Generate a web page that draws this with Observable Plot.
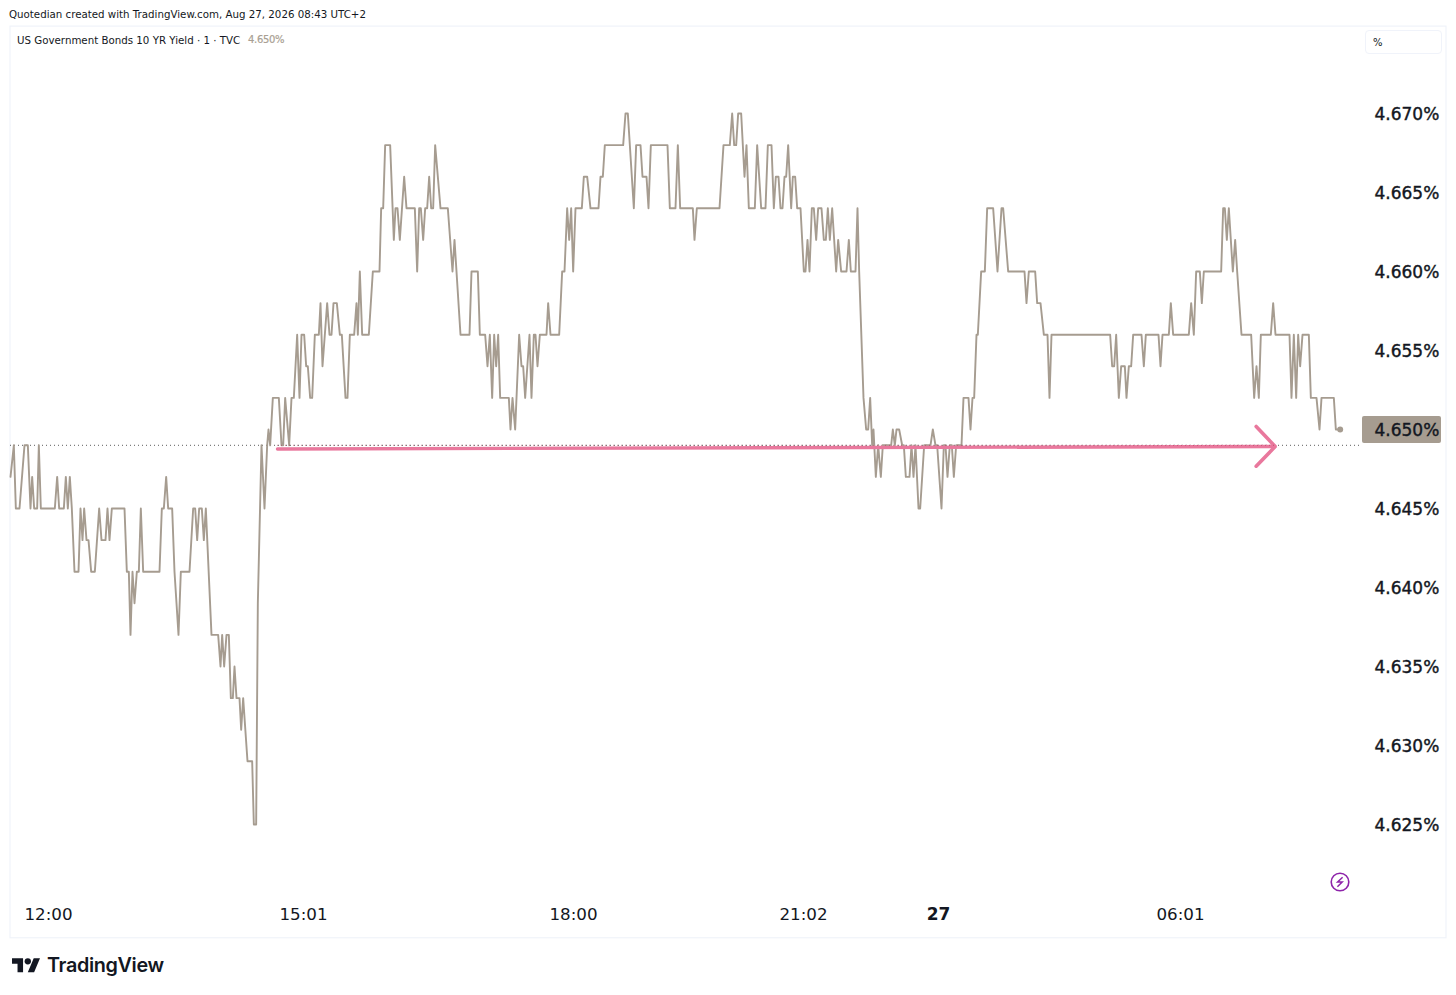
<!DOCTYPE html>
<html><head><meta charset="utf-8">
<script src="https://cdn.jsdelivr.net/npm/d3@7"></script>
<script src="https://cdn.jsdelivr.net/npm/@observablehq/plot@0.6"></script>
<style>
html,body{margin:0;padding:0;background:#fff;width:1456px;height:995px;overflow:hidden}
#chart{position:absolute;left:0;top:0}
.t{position:absolute;white-space:nowrap;font-family:"DejaVu Sans";color:#131722}
</style></head><body>
<div id="chart"></div>
<div class="t" id="hdr" style="left:9px;top:8px;font-size:10.25px">Quotedian created with TradingView.com, Aug 27, 2026 08:43 UTC+2</div>
<div class="t" id="leg" style="left:17px;top:34px;font-size:10.25px">US Government Bonds 10 YR Yield · 1 · TVC</div>
<div class="t" id="legv" style="left:248px;top:34px;font-size:10px;letter-spacing:-.32px;color:#a99f93;-webkit-text-stroke:.2px #a99f93">4.650%</div>
<div style="position:absolute;left:1365px;top:30px;width:77px;height:24px;border:1px solid #f0f3fa;border-radius:4px;box-sizing:border-box"></div>
<div class="t" style="left:1373px;top:37px;font-size:10px">%</div>
<svg style="position:absolute;left:1330px;top:872px" width="20" height="20" viewBox="0 0 20 20">
  <circle cx="10" cy="10" r="8.8" fill="none" stroke="#8e24aa" stroke-width="1.6"/>
  <path d="M12.6 5.2 L7.6 10 L12.2 10 L7.4 14.8" fill="none" stroke="#8e24aa" stroke-width="1.5"/>
</svg>
<svg style="position:absolute;left:12px;top:955px" width="28.44" height="18.96" viewBox="0 0 36 24">
  <path d="M14 22H7V11H0V4h14v18zM28 22h-8l7.5-18h8L28 22z" fill="#131722"/><circle cx="20" cy="8" r="4" fill="#131722"/>
</svg>
<div class="t" style="left:47px;top:953px;font-family:Inter;font-weight:600;font-size:19.8px;letter-spacing:-.35px">TradingView</div>
<script>
const segment1Start = 0;
const segment1 = [[30,4.647],[40,4.649],[46,4.645],[57,4.645],[72,4.649],[82,4.649],[90,4.645],[95,4.647],[101,4.645],[110,4.645],[115,4.649],[121,4.645],[163,4.645],[170,4.647],[176,4.645],[190,4.645],[196,4.647],[202,4.645],[208,4.647],[214,4.645],[222,4.641],[234,4.641],[240,4.645],[246,4.643],[251,4.645],[258,4.643],[264,4.643],[272,4.641],[283,4.641],[296,4.645],[303,4.643],[315,4.643],[321,4.645],[327,4.643],[334,4.645],[372,4.645],[379,4.641],[385,4.641],[390,4.637],[396,4.641],[402,4.639],[409,4.641],[415,4.641],[421,4.645],[428,4.641],[477,4.641],[484,4.645],[490,4.645],[497,4.647],[503,4.645],[515,4.645],[522,4.641],[534,4.637],[541,4.641],[567,4.641],[578,4.645],[584,4.645],[590,4.643],[596,4.645],[604,4.645],[610,4.643],[616,4.645],[633,4.637],[653,4.637],[660,4.635],[665,4.637],[671,4.635],[678,4.637],[685,4.637],[691,4.633],[697,4.633],[702,4.635],[708,4.633],[717,4.633],[722,4.631],[728,4.633],[741,4.629],[755,4.629],[760,4.625],[767,4.625],[772,4.639],[783,4.649],[792,4.645],[800,4.649],[804,4.650],[809,4.649],[817,4.652],[835,4.652],[843,4.649],[848,4.649],[854,4.652],[866,4.649],[873,4.652]];
const segment2Start = 780;
const segment2 = [[100,4.652],[110,4.656],[117,4.652],[123,4.656],[131,4.656],[137,4.654],[142,4.654],[149,4.652],[155,4.652],[163,4.656],[175,4.656],[180,4.658],[186,4.654],[200,4.658],[207,4.656],[213,4.656],[219,4.658],[229,4.658],[238,4.656],[244,4.656],[255,4.652],[261,4.652],[268,4.656],[281,4.656],[288,4.658],[292,4.656],[298,4.660],[305,4.656],[325,4.656],[337,4.660],[357,4.660],[362,4.664],[368,4.664],[374,4.668],[389,4.668],[400,4.662],[405,4.664],[411,4.664],[418,4.662],[431,4.666],[438,4.664],[463,4.664],[470,4.660],[476,4.664],[481,4.664],[488,4.662],[494,4.664],[500,4.664],[506,4.666],[512,4.664],[518,4.664],[524,4.668],[540,4.664],[562,4.664],[576,4.660],[582,4.662],[600,4.656],[627,4.656],[633,4.660],[652,4.660],[658,4.656],[674,4.656],[681,4.654],[688,4.656],[695,4.652],[701,4.656],[707,4.654],[713,4.656],[719,4.652],[745,4.652],[750,4.650],[756,4.652],[764,4.650],[776,4.656],[783,4.654],[788,4.654],[794,4.652],[807,4.656],[813,4.652],[820,4.656],[825,4.656],[831,4.654],[838,4.656],[858,4.656],[863,4.658],[870,4.656],[896,4.656]];
const segment3Start = 1650;
const segment3 = [[35,4.660],[42,4.660],[50,4.664],[56,4.662],[62,4.664],[68,4.660],[75,4.664],[94,4.664],[100,4.666],[110,4.666],[120,4.664],[144,4.664],[150,4.666],[157,4.666],[163,4.668],[218,4.668],[225,4.670],[232,4.670],[250,4.664],[257,4.668],[270,4.668],[276,4.666],[288,4.666],[294,4.664],[301,4.668],[351,4.668],[358,4.664],[375,4.664],[382,4.668],[389,4.664],[427,4.664],[432,4.662],[439,4.664],[507,4.664],[519,4.668],[538,4.668],[545,4.670],[551,4.668],[557,4.668],[563,4.670],[572,4.670],[582,4.666],[588,4.668],[595,4.664],[613,4.664],[620,4.668],[632,4.664],[645,4.664],[652,4.668],[663,4.668],[670,4.664],[676,4.666],[684,4.666],[690,4.664],[696,4.664],[702,4.666],[707,4.666],[713,4.668],[722,4.664],[727,4.666],[734,4.666],[740,4.664],[750,4.664],[760,4.660],[765,4.660],[771,4.662],[777,4.660],[784,4.664],[790,4.664],[797,4.662],[803,4.664],[813,4.664],[820,4.662],[826,4.662],[832,4.664],[838,4.662],[845,4.664],[857,4.660],[863,4.662],[872,4.660],[888,4.660],[895,4.662],[901,4.660],[915,4.660],[921,4.664]];
const segment4Start = 2340;
const segment4 = [[236,4.660],[249,4.652],[257,4.650],[263,4.650],[269,4.652],[275,4.649],[279,4.650],[286,4.647],[293,4.649],[301,4.647],[307,4.649],[332,4.649],[337,4.650],[343,4.649],[348,4.650],[356,4.650],[365,4.649],[370,4.649],[376,4.647],[387,4.647],[393,4.649],[399,4.647],[405,4.649],[414,4.645],[419,4.645],[431,4.649],[450,4.649],[457,4.650],[465,4.649],[470,4.649],[483,4.645],[490,4.649],[495,4.649],[501,4.647],[508,4.649],[514,4.649],[520,4.647],[527,4.649],[543,4.649],[549,4.652],[564,4.652],[570,4.650],[576,4.652],[581,4.652],[588,4.656],[592,4.656],[602,4.660],[613,4.660],[620,4.664],[638,4.664],[651,4.660],[663,4.664],[668,4.664],[683,4.660],[732,4.660],[738,4.658],[745,4.660],[764,4.660],[770,4.658],[780,4.658],[790,4.656],[801,4.656]];
const segment5Start = 3090;
const segment5 = [[57,4.652],[63,4.656],[239,4.656],[245,4.654],[251,4.654],[257,4.656],[265,4.652],[272,4.654],[283,4.654],[288,4.652],[295,4.654],[302,4.654],[308,4.656],[333,4.656],[340,4.654],[346,4.656],[384,4.656],[390,4.654],[396,4.656],[415,4.656],[421,4.658],[428,4.656],[475,4.656],[482,4.658],[490,4.656],[497,4.660],[508,4.660],[514,4.658],[520,4.660],[572,4.660],[578,4.664],[583,4.664],[589,4.662],[595,4.664],[607,4.660],[614,4.662],[620,4.660],[633,4.656],[662,4.656],[671,4.652],[678,4.654],[685,4.652],[691,4.656],[721,4.656],[728,4.658],[735,4.656],[777,4.656],[783,4.652],[790,4.656],[797,4.652],[803,4.656],[809,4.654],[816,4.656],[835,4.656],[841,4.652],[858,4.652],[867,4.650],[873,4.652],[910,4.652],[916,4.650],[929,4.650]];

const yTicks = [4.670,4.665,4.660,4.655,4.650,4.645,4.640,4.635,4.630,4.625];
const timeTicks = [144,909,1719,2409,3540];
const timeLabels = ["12:00","15:01","18:00","21:02","06:01"];
const dayTick = [2814];
const dayLabel = ["27"];
const prevClose = 4.649;
const arrowShaft = [[831,4.64877],[3824,4.64892]];
const arrowHead = [[3767,4.65019],[3824,4.64892],[3767,4.64768]];
const panel = {x1:30,x2:4338,y1:4.6178,y2:4.6755};
const priceTag = {x1:4086,x2:4323,y1:4.64911,y2:4.65082};

const series = [[segment1Start,segment1],[segment2Start,segment2],[segment3Start,segment3],[segment4Start,segment4],[segment5Start,segment5]]
  .flatMap(([s,pts]) => pts.map(([p,v]) => ({pos:s+p, yld:v})));
const last = series[series.length-1];
const INK = "#131722", TAN = "#a69c90", PINK = "#e9789d";

const plot = Plot.plot({
  width:1456, height:940,
  marginTop:26, marginLeft:10, marginRight:94, marginBottom:36,
  style:{fontFamily:"DejaVu Sans", background:"transparent"},
  x:{type:"linear", domain:[30,4338], range:[10,1446], axis:null},
  y:{type:"linear", domain:[4.625,4.670], range:[824,113], axis:null},
  marks:[
    Plot.rect([panel],{x1:"x1",x2:"x2",y1:"y1",y2:"y2",fill:"none",stroke:"#f0f3fa",strokeWidth:1.2}),
    Plot.ruleY([prevClose],{x1:30,x2:priceTag.x1,stroke:"#5d5d5d",strokeWidth:1,strokeDasharray:"1,3"}),
    Plot.line(series,{x:"pos",y:"yld",stroke:TAN,strokeWidth:1.9,strokeLinejoin:"round"}),
    Plot.line(arrowShaft,{x:d=>d[0],y:d=>d[1],stroke:PINK,strokeWidth:3.4,strokeLinecap:"round"}),
    Plot.line(arrowHead,{x:d=>d[0],y:d=>d[1],stroke:PINK,strokeWidth:3.6,strokeLinecap:"round",strokeLinejoin:"miter"}),
    Plot.ruleY([prevClose],{x1:831,x2:3824,stroke:"#a8324f",strokeWidth:1,strokeDasharray:"1,3",strokeOpacity:.55}),
    Plot.dot([last],{x:"pos",y:"yld",r:3,fill:TAN,stroke:"none"}),
    Plot.rect([priceTag],{x1:"x1",x2:"x2",y1:"y1",y2:"y2",fill:TAN,rx:2}),
    Plot.axisY({anchor:"right",ticks:yTicks,tickFormat:d=>d.toFixed(3)+"%",tickSize:0,tickPadding:12,fontSize:17,fill:INK,label:null,dy:1}),
    Plot.axisX({anchor:"bottom",ticks:timeTicks,tickFormat:d=>timeLabels[timeTicks.indexOf(d)],tickSize:0,tickPadding:4,fontSize:16.7,fill:INK,label:null}),
    Plot.axisX({anchor:"bottom",ticks:dayTick,tickFormat:d=>dayLabel[dayTick.indexOf(d)],tickSize:0,tickPadding:3.5,fontSize:17,fontWeight:"bold",fill:INK,label:null})
  ]
});
d3.select(plot).selectAll('g[aria-label="y-axis tick label"]').attr("stroke",INK).attr("stroke-width",.4);
document.getElementById("chart").append(plot);
</script>
</body></html>
